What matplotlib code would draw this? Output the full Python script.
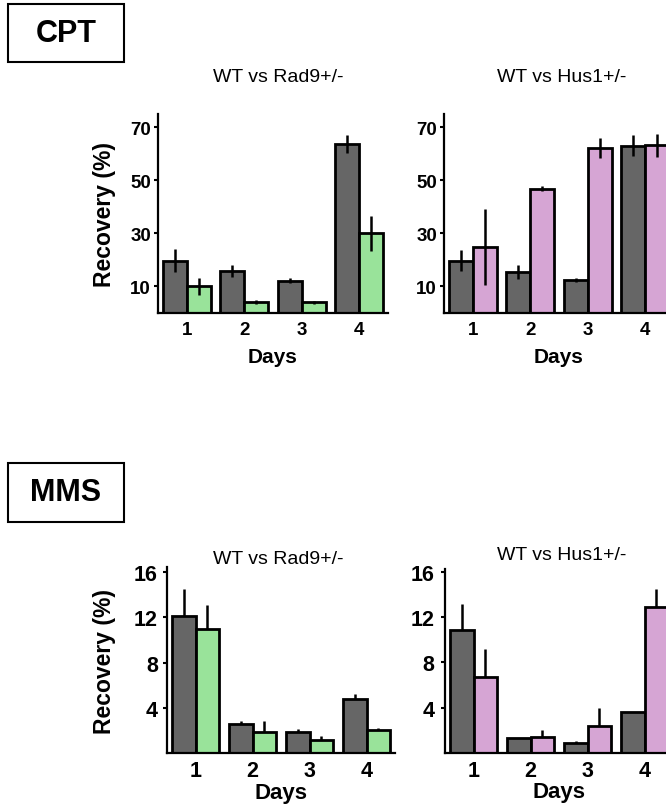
import matplotlib
matplotlib.use("Agg")
import matplotlib.pyplot as plt
from matplotlib.patches import Rectangle
import numpy as np

plt.rcParams["font.family"] = ["Liberation Sans", "DejaVu Sans"]

DAYS = [1, 2, 3, 4]
DAY_LABELS = ["1", "2", "3", "4"]

# CPT, WT vs Rad9+/-
cpt_wt_a = [19.6, 15.8, 12.0, 63.8]
cpt_wt_a_err = [4.3, 2.3, 0.9, 3.4]
cpt_rad9 = [10.0, 4.0, 3.8, 29.9]
cpt_rad9_err = [3.2, 0.6, 0.4, 6.6]

# CPT, WT vs Hus1+/-
cpt_wt_b = [19.6, 15.3, 12.2, 63.0]
cpt_wt_b_err = [4.1, 2.6, 0.8, 4.0]
cpt_hus1 = [24.7, 46.8, 62.0, 63.2]
cpt_hus1_err = [14.4, 1.0, 3.8, 4.3]

# MMS, WT vs Rad9+/- (upper error only)
mms_wt_a = [12.1, 2.6, 1.9, 4.8]
mms_wt_a_err = [2.4, 0.2, 0.25, 0.4]
mms_rad9 = [11.0, 1.9, 1.15, 2.0]
mms_rad9_err = [2.1, 0.9, 0.35, 0.2]

# MMS, WT vs Hus1+/- (upper error only)
mms_wt_b = [10.9, 1.3, 0.9, 3.6]
mms_wt_b_err = [2.3, 0.0, 0.2, 0.0]
mms_hus1 = [6.7, 1.4, 2.4, 12.9]
mms_hus1_err = [2.5, 0.65, 1.6, 1.6]

DARK = "#666666"
GREEN = "#99E39A"
PINK = "#D6A5D4"

W, H = 666, 812


def rect(x0, x1, ybot, ytop):
    return [x0 / W, 1 - ybot / H, (x1 - x0) / W, (ybot - ytop) / H]


def panel(fig, pos, wt, wt_err, mut, mut_err, color, ylim, yticks, sym,
          tick_fs, label_fs, xpad, ypad, xlab_y):
    ax = fig.add_axes(pos)
    x = np.array(DAYS, dtype=float)
    bw = 0.42
    for xs, vals, errs, col in ((x - bw / 2, wt, wt_err, DARK),
                                (x + bw / 2, mut, mut_err, color)):
        ax.bar(xs, vals, width=bw, color=col, edgecolor="black",
               linewidth=2.0, zorder=2)
        errs = np.array(errs)
        yerr = errs if sym else [np.zeros_like(errs), errs]
        ax.errorbar(xs, vals, yerr=yerr, fmt="none", ecolor="black",
                    elinewidth=1.8, capsize=0, zorder=3)

    ax.set_xlim(0.5, 4.5)
    ax.set_ylim(*ylim)
    ax.set_xticks(DAYS)
    ax.set_xticklabels(DAY_LABELS, fontsize=tick_fs, fontweight="bold")
    ax.set_yticks(yticks)
    ax.set_yticklabels([str(t) for t in yticks], fontsize=tick_fs,
                       fontweight="bold")
    ax.tick_params(axis="x", length=0, pad=xpad)
    ax.tick_params(axis="y", length=3, width=1.5, pad=ypad)
    for side in ("top", "right"):
        ax.spines[side].set_visible(False)
    for side in ("left", "bottom"):
        ax.spines[side].set_linewidth(1.6)
    ax.set_xlabel("Days", fontsize=label_fs, fontweight="bold", va="center")
    ax.xaxis.set_label_coords(0.5, xlab_y)
    return ax


def label_box(fig, text, x0, x1, ytop, ybot):
    fig.patches.append(Rectangle((x0 / W, 1 - ybot / H), (x1 - x0) / W,
                                 (ybot - ytop) / H, transform=fig.transFigure,
                                 fill=False, edgecolor="black", linewidth=1.5))
    fig.text((x0 + x1) / 2 / W, 1 - (ytop + ybot) / 2 / H, text, ha="center",
             va="center", fontsize=22, fontweight="bold")


def main() -> None:
    fig = plt.figure(figsize=(W / 100, H / 100), dpi=100)

    # CPT row
    a1 = panel(fig, rect(158, 388, 313.5, 115), cpt_wt_a, cpt_wt_a_err,
               cpt_rad9, cpt_rad9_err, GREEN, (0, 75), [10, 30, 50, 70], True,
               13.5, 15, 6, 2, -0.22)
    panel(fig, rect(444, 674, 313.5, 115), cpt_wt_b, cpt_wt_b_err,
          cpt_hus1, cpt_hus1_err, PINK, (0, 75), [10, 30, 50, 70], True,
          13.5, 15, 6, 2, -0.22)
    a1.set_ylabel("Recovery (%)", fontsize=16.5, fontweight="bold", va="center")
    a1.yaxis.set_label_coords((105 - 158) / 230, 0.5)

    # MMS row
    b1 = panel(fig, rect(167, 395, 754, 568), mms_wt_a, mms_wt_a_err,
               mms_rad9, mms_rad9_err, GREEN, (0, 16.45), [4, 8, 12, 16], False,
               15.5, 16, 5, 3.5, -0.21)
    panel(fig, rect(445, 673, 754, 570), mms_wt_b, mms_wt_b_err,
          mms_hus1, mms_hus1_err, PINK, (0, 16.25), [4, 8, 12, 16], False,
          15.5, 16, 5, 4.5, -0.21)
    b1.set_ylabel("Recovery (%)", fontsize=16.5, fontweight="bold", va="center")
    b1.yaxis.set_label_coords((105 - 167) / 228, 0.5)

    # panel titles
    fig.text(213 / W, 1 - 77 / H, "WT vs Rad9+/-", fontsize=14, va="center")
    fig.text(497 / W, 1 - 77 / H, "WT vs Hus1+/-", fontsize=14, va="center")
    fig.text(213 / W, 1 - 560 / H, "WT vs Rad9+/-", fontsize=14, va="center")
    fig.text(497 / W, 1 - 555 / H, "WT vs Hus1+/-", fontsize=14, va="center")

    label_box(fig, "CPT", 8, 124, 5, 63)
    label_box(fig, "MMS", 8, 124, 464, 523)

    fig.savefig("out.png", dpi=100)
    plt.close(fig)


if __name__ == "__main__":
    main()
